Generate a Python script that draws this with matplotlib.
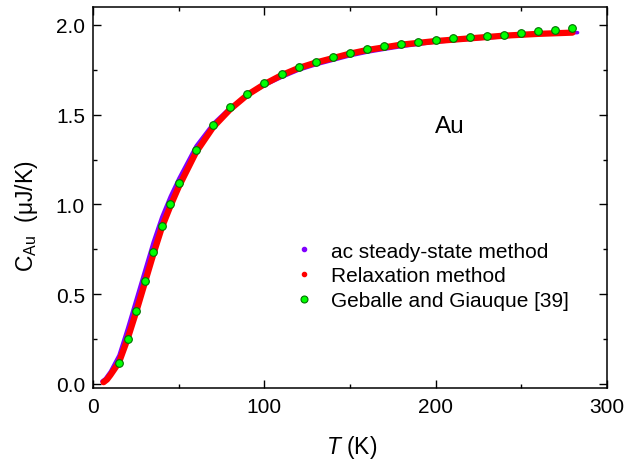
import matplotlib
matplotlib.use("Agg")
import matplotlib.pyplot as plt
from matplotlib.lines import Line2D
from matplotlib.ticker import MultipleLocator

plt.rcParams['font.family'] = ['Liberation Sans', 'DejaVu Sans']
plt.rcParams['mathtext.fontset'] = 'custom'
plt.rcParams['mathtext.it'] = 'Liberation Sans:italic'
plt.rcParams['mathtext.rm'] = 'Liberation Sans'

# ac steady-state method (purple)
T_ac = [5, 7, 10, 15, 20, 25, 30, 35, 40, 45, 50, 60, 70, 80, 90, 100, 110, 120,
        130, 140, 150, 160, 170, 180, 190, 200, 220, 240, 260, 283]
C_ac = [0.015, 0.03, 0.07, 0.16, 0.31, 0.47, 0.63, 0.79, 0.93, 1.045, 1.145, 1.325,
        1.45, 1.54, 1.607, 1.663, 1.708, 1.748, 1.778, 1.803, 1.828, 1.848, 1.864, 1.879,
        1.892, 1.904, 1.92, 1.934, 1.947, 1.957]

# Relaxation method (red)
T_rel = [6, 8, 10, 15, 20, 25, 30, 35, 40, 45, 50, 60, 70, 80, 90, 100, 110, 120,
         130, 140, 150, 160, 170, 180, 190, 200, 220, 240, 260, 280]
C_rel = [0.01, 0.025, 0.05, 0.12, 0.25, 0.40, 0.56, 0.72, 0.87, 0.99, 1.10, 1.29,
         1.43, 1.53, 1.61, 1.67, 1.72, 1.76, 1.79, 1.815, 1.84, 1.86, 1.875, 1.89,
         1.90, 1.91, 1.925, 1.94, 1.95, 1.957]

# Geballe and Giauque [39] (green)
T_gg = [15, 20, 25, 30, 35, 40, 45, 50, 60, 70, 80, 90, 100, 110, 120, 130, 140,
        150, 160, 170, 180, 190, 200, 210, 220, 230, 240, 250, 260, 270, 280]
C_gg = [0.115, 0.252, 0.407, 0.576, 0.735, 0.878, 1.004, 1.117, 1.302, 1.441,
        1.541, 1.617, 1.678, 1.728, 1.765, 1.793, 1.819, 1.844, 1.865, 1.880,
        1.894, 1.907, 1.917, 1.926, 1.931, 1.939, 1.946, 1.956, 1.965, 1.972, 1.980]

labels = ['ac steady-state method', 'Relaxation method', 'Geballe and Giauque [39]']

W, H = 641, 464
L, R, TOP, BOT = 93.3, 606.7, 8.3, 389.3
fig = plt.figure(figsize=(W/100, H/100), dpi=100)
ax = fig.add_axes([L/W, 1-BOT/H, (R-L)/W, (BOT-TOP)/H])

ax.plot(T_ac, C_ac, color='#8000ff', lw=2.5, solid_capstyle='round', zorder=2)
ax.plot(T_rel, C_rel, color='#ff0000', lw=4.5, solid_capstyle='round', zorder=3)
ax.plot(T_gg, C_gg, 'o', ms=5.5, mfc='#00ff00', mec='#007000', mew=0.8, ls='none', zorder=4)

ax.set_xlim(0, 300)
ax.set_ylim(-0.024, 2.098)
ax.xaxis.set_major_locator(MultipleLocator(100))
ax.xaxis.set_minor_locator(MultipleLocator(50))
ax.yaxis.set_major_locator(MultipleLocator(0.5))
ax.yaxis.set_minor_locator(MultipleLocator(0.25))
ax.yaxis.set_major_formatter(plt.FormatStrFormatter('%.1f'))
ax.tick_params(which='both', direction='in', top=True, right=True, labelsize=15,
               width=1, pad=6)
ax.tick_params(which='major', length=6)
ax.tick_params(which='minor', length=3)
for s in ax.spines.values():
    s.set_linewidth(1.1)

ax.set_xlabel(r'$T$ (K)', fontsize=16.5)
ax.xaxis.set_label_coords((352 - L)/(R - L), -(448 - BOT)/(BOT - TOP))
ax.xaxis.label.set_va('center')
ax.set_ylabel(r'C$_{\mathrm{Au}}$  (μJ/K)', fontsize=16.5)
ax.yaxis.set_label_coords(-(L - 27)/(R - L), (BOT - 216)/(BOT - TOP))
ax.yaxis.label.set_va('center')

ax.text((435 - L)/(R - L), (BOT - 133)/(BOT - TOP), 'Au', transform=ax.transAxes,
        fontsize=17.5, va='baseline')

handles = [Line2D([], [], marker='o', ls='none', ms=3, mfc='#8000ff', mec='#8000ff'),
           Line2D([], [], marker='o', ls='none', ms=3, mfc='#ff0000', mec='#ff0000'),
           Line2D([], [], marker='o', ls='none', ms=5, mfc='#00ff00', mec='#007000', mew=0.8)]
leg = ax.legend(handles, labels, loc='center left',
                bbox_to_anchor=((296 - L)/(R - L), (BOT - 277)/(BOT - TOP)),
                frameon=False, fontsize=15, handletextpad=0.9, labelspacing=0.28,
                handlelength=0.8, borderpad=0, borderaxespad=0)

fig.savefig('out.png', dpi=100)
